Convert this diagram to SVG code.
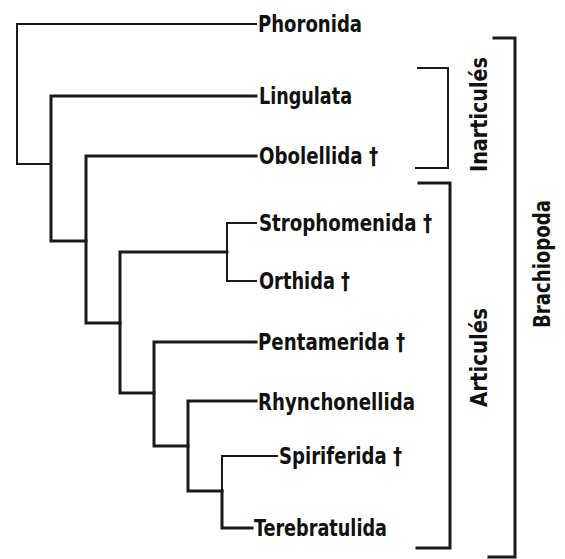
<svg xmlns="http://www.w3.org/2000/svg" width="565" height="559" viewBox="0 0 565 559">
<style>
.b{fill:none;stroke:#1a1a1a;stroke-width:3;stroke-linecap:square;stroke-linejoin:miter}
.t{fill:none;stroke:#1a1a1a;stroke-width:2;stroke-linecap:square;stroke-linejoin:miter}
text{font-family:"Liberation Sans Narrow","DejaVu Sans Condensed","Liberation Sans",sans-serif;font-weight:bold;font-size:22.5px;fill:#111}
</style>
<rect width="565" height="559" fill="#fff"/>
<g id="connectors">
<path class="t" d="M256,24 H17 V164 H51"/>
<path class="b" d="M256,96 H51 V241 H86"/>
<path class="b" d="M256,156 H86 V323 H120"/>
<path class="t" d="M256,223 H227 V281 H256"/>
<path class="b" d="M227,252 H120 V393 H154"/>
<path class="b" d="M256,342 H154 V446 H188"/>
<path class="b" d="M256,401 H188 V491 H222"/>
<path class="t" d="M277,456 H222 V491"/>
<path class="b" d="M222,491 V528 H252"/>
</g>
<g id="n-phoronida"><text x="258" y="32" textLength="104" lengthAdjust="spacingAndGlyphs">Phoronida</text></g>
<g id="n-lingulata"><text x="259" y="104" textLength="93" lengthAdjust="spacingAndGlyphs">Lingulata</text></g>
<g id="n-obolellida"><text x="259" y="164" textLength="119" lengthAdjust="spacingAndGlyphs">Obolellida †</text></g>
<g id="n-strophomenida"><text x="259" y="231" textLength="173" lengthAdjust="spacingAndGlyphs">Strophomenida †</text></g>
<g id="n-orthida"><text x="259" y="289" textLength="91" lengthAdjust="spacingAndGlyphs">Orthida †</text></g>
<g id="n-pentamerida"><text x="258" y="350" textLength="147" lengthAdjust="spacingAndGlyphs">Pentamerida †</text></g>
<g id="n-rhynchonellida"><text x="258" y="410" textLength="157" lengthAdjust="spacingAndGlyphs">Rhynchonellida</text></g>
<g id="n-spiriferida"><text x="279" y="464" textLength="123" lengthAdjust="spacingAndGlyphs">Spiriferida †</text></g>
<g id="n-terebratulida"><text x="254" y="536" textLength="133" lengthAdjust="spacingAndGlyphs">Terebratulida</text></g>
<g id="g-inarticules">
<path class="t" d="M418,68 H448 V168 H416"/>
<text transform="translate(487,114.5) rotate(-90)" text-anchor="middle" textLength="115" lengthAdjust="spacingAndGlyphs">Inarticulés</text>
</g>
<g id="g-articules">
<path class="b" d="M419,183 H450 V548 H417"/>
<text transform="translate(487,357.5) rotate(-90)" text-anchor="middle" textLength="99" lengthAdjust="spacingAndGlyphs">Articulés</text>
</g>
<g id="g-brachiopoda">
<path class="b" d="M494,38 H515 V557 H489"/>
<text transform="translate(550,264) rotate(-90)" text-anchor="middle" textLength="128" lengthAdjust="spacingAndGlyphs">Brachiopoda</text>
</g>
</svg>
